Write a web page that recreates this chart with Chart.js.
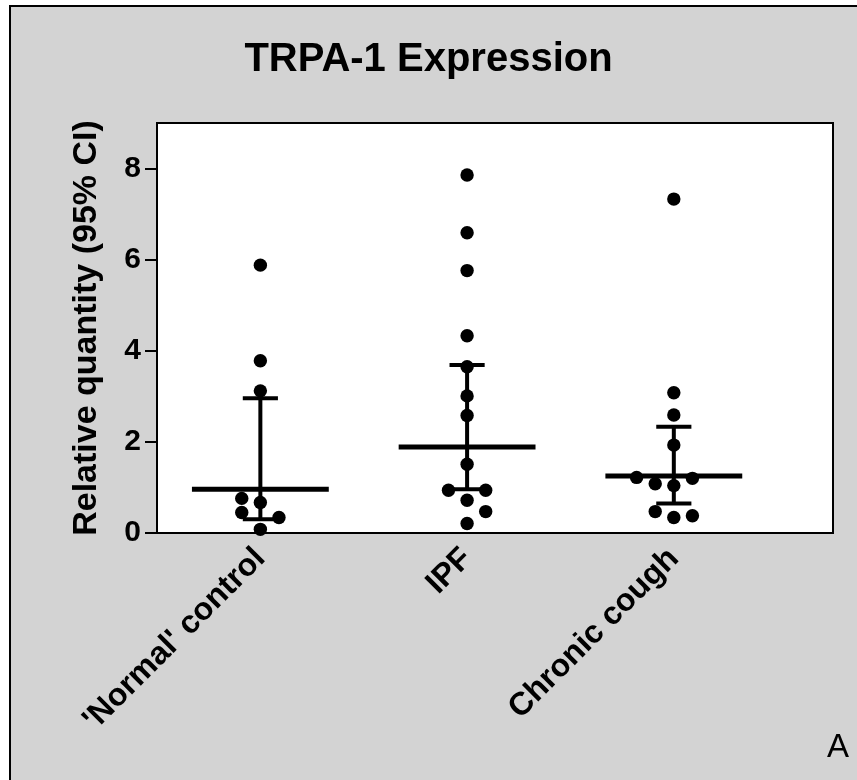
<!DOCTYPE html>
<html>
<head>
<meta charset="utf-8">
<script src="https://cdn.jsdelivr.net/npm/chart.js@4/dist/chart.umd.min.js"></script>
<style>
  html, body { margin: 0; padding: 0; background: #ffffff; }
  #c { display: block; }
</style>
</head>
<body>
<canvas id="c" width="857" height="780"></canvas>
<script>
// Groups and individual relative quantities per subject
const groups = ["'Normal' control", "IPF", "Chronic cough"];
const normalControl = [5.88, 3.78, 3.12, 0.08, 0.67, 0.76, 0.34, 0.45];
const ipf = [7.86, 6.59, 5.76, 4.33, 3.65, 3.01, 2.58, 1.51, 0.21, 0.72, 0.94, 0.47, 0.94];
const chronicCough = [7.33, 3.08, 2.59, 1.93, 0.34, 0.47, 0.38, 1.04, 1.08, 1.20, 1.22];

// Group summary: central value with 95% confidence interval
const centre = [0.96, 1.89, 1.25];
const ciLower = [0.30, 0.96, 0.65];
const ciUpper = [2.96, 3.69, 2.33];

const yTicks = [0, 2, 4, 6, 8];

const FONT = "'Liberation Sans', Arial, Helvetica, sans-serif";

// Dot-plot spreading: points that would overlap vertically are pushed
// sideways into neighbouring columns (step in category units).
const COLUMN_STEP = 0.09;
const OVERLAP = 0.285; // dot diameter expressed in y units

function spread(values, groupIndex) {
  const placed = [];
  const counts = {};
  return values.map(v => {
    let col = 0;
    for (let k = 0; k < 10; k++) {
      let cands = k === 0 ? [0] : [-k, k];
      if (k > 0) {
        cands.sort((a, b) => (counts[a] || 0) - (counts[b] || 0));
      }
      const free = cands.find(c =>
        !placed.some(p => p.col === c && Math.abs(p.v - v) < OVERLAP));
      if (free !== undefined) { col = free; break; }
    }
    placed.push({ v, col });
    counts[col] = (counts[col] || 0) + 1;
    return { x: groupIndex + col * COLUMN_STEP, y: v };
  });
}

const series = [normalControl, ipf, chronicCough];

const panelPlugin = {
  id: 'panel',
  beforeDraw(chart) {
    const { ctx, width, height, chartArea: a } = chart;
    ctx.save();
    ctx.fillStyle = '#ffffff';
    ctx.fillRect(0, 0, width, height);
    ctx.fillStyle = '#000000';
    ctx.fillRect(9, 5, width - 9, height - 5);
    ctx.fillStyle = '#d3d3d3';
    ctx.fillRect(11, 7, width - 11, height - 7);
    ctx.fillStyle = '#ffffff';
    ctx.fillRect(a.left, a.top, a.right - a.left, a.bottom - a.top);
    ctx.restore();
  },
  beforeDatasetsDraw(chart) {
    const { ctx } = chart;
    const xs = chart.scales.x, ys = chart.scales.y;
    ctx.save();
    ctx.strokeStyle = '#000000';
    ctx.lineCap = 'butt';
    groups.forEach((g, i) => {
      const cx = xs.getPixelForValue(i);
      // vertical CI line
      ctx.lineWidth = 4;
      ctx.beginPath();
      ctx.moveTo(cx, ys.getPixelForValue(ciLower[i]));
      ctx.lineTo(cx, ys.getPixelForValue(ciUpper[i]));
      ctx.stroke();
      // caps
      [ciLower[i], ciUpper[i]].forEach(v => {
        const py = ys.getPixelForValue(v);
        ctx.beginPath();
        ctx.moveTo(xs.getPixelForValue(i - 0.085), py);
        ctx.lineTo(xs.getPixelForValue(i + 0.085), py);
        ctx.stroke();
      });
      // centre line
      ctx.lineWidth = 5;
      const my = ys.getPixelForValue(centre[i]);
      ctx.beginPath();
      ctx.moveTo(xs.getPixelForValue(i - 0.331), my);
      ctx.lineTo(xs.getPixelForValue(i + 0.331), my);
      ctx.stroke();
    });
    ctx.restore();
  },
  afterDraw(chart) {
    const { ctx, chartArea: a } = chart;
    ctx.save();
    ctx.strokeStyle = '#000000';
    ctx.lineWidth = 2;
    ctx.strokeRect(a.left, a.top, a.right - a.left, a.bottom - a.top);
    ctx.fillStyle = '#000000';
    ctx.font = '33px ' + FONT;
    ctx.textAlign = 'left';
    ctx.textBaseline = 'alphabetic';
    ctx.fillText('A', 827, 757);
    ctx.restore();
  }
};

new Chart(document.getElementById('c'), {
  type: 'scatter',
  data: {
    datasets: series.map((vals, i) => ({
      label: groups[i],
      data: spread(vals, i),
      backgroundColor: '#000000',
      borderWidth: 0,
      pointRadius: 6.7,
      pointHoverRadius: 6.7,
      clip: false
    }))
  },
  options: {
    responsive: false,
    animation: false,
    devicePixelRatio: 1,
    layout: { padding: 0 },
    plugins: {
      legend: { display: false },
      tooltip: { enabled: false },
      title: {
        display: true,
        text: 'TRPA-1 Expression',
        color: '#000000',
        font: { family: FONT, size: 40, weight: 'bold' },
        padding: { top: 36, bottom: 39 }
      }
    },
    scales: {
      x: {
        type: 'linear',
        min: -0.5,
        max: 2.77,
        afterBuildTicks: s => { s.ticks = groups.map((g, i) => ({ value: i })); },
        afterFit: s => { s.height = 247; s.paddingRight = 24; },
        grid: { display: false, drawTicks: false },
        border: { display: false },
        ticks: {
          autoSkip: false,
          minRotation: 45,
          maxRotation: 45,
          padding: 7,
          color: '#000000',
          font: { family: FONT, size: 32, weight: 'bold' },
          callback: v => groups[v]
        }
      },
      y: {
        min: 0,
        max: 9,
        afterBuildTicks: s => { s.ticks = yTicks.map(v => ({ value: v })); },
        afterFit: s => { s.width = 157; },
        grid: {
          display: true,
          drawOnChartArea: false,
          drawTicks: true,
          tickLength: 12,
          color: '#000000',
          lineWidth: 2
        },
        border: { display: false },
        ticks: {
          padding: 4,
          color: '#000000',
          font: { family: FONT, size: 30, weight: 'bold' }
        },
        title: {
          display: true,
          text: 'Relative quantity (95% CI)',
          color: '#000000',
          font: { family: FONT, size: 34, weight: 'bold' },
          padding: { top: 66, bottom: 0 }
        }
      }
    }
  },
  plugins: [panelPlugin]
});
</script>
</body>
</html>
